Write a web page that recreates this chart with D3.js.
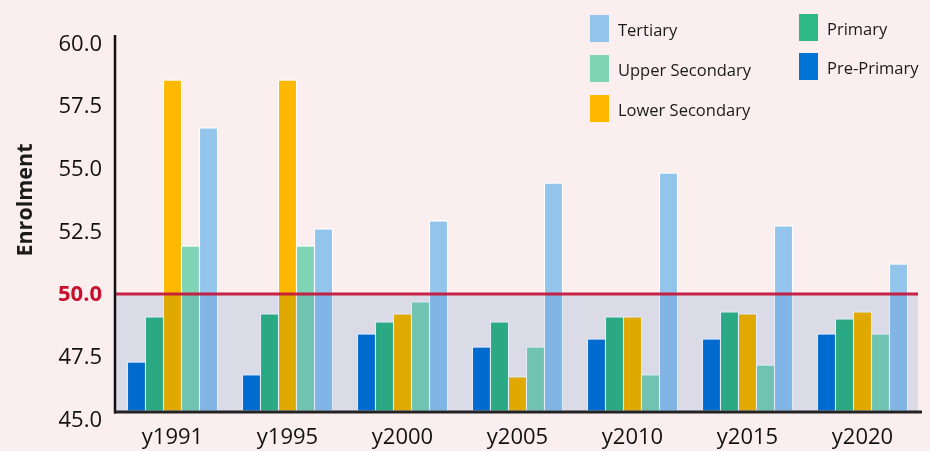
<!DOCTYPE html>
<html>
<head>
<meta charset="utf-8">
<script src="https://cdn.jsdelivr.net/npm/d3@7"></script>
<style>
html,body{margin:0;padding:0;background:#FAEEEE;}
svg{display:block;}
text{font-family:"Open Sans",sans-serif;}
</style>
</head>
<body>
<svg id="chart" width="930" height="451"></svg>
<script>
// ---- data ----
const categories = ["y1991","y1995","y2000","y2005","y2010","y2015","y2020"];
const seriesNames = ["Pre-Primary","Primary","Lower Secondary","Upper Secondary","Tertiary"];
const prePrimary     = [46.95, 46.44, 48.07, 47.55, 47.87, 47.87, 48.07];
const primary        = [48.75, 48.87, 48.55, 48.55, 48.75, 48.95, 48.67];
const lowerSecondary = [58.20, 58.20, 48.87, 46.36, 48.75, 48.87, 48.95];
const upperSecondary = [51.58, 51.58, 49.35, 47.55, 46.44, 46.83, 48.07];
const tertiary       = [56.29, 52.26, 52.58, 54.09, 54.49, 52.38, 50.86];
const yTicks = [45, 47.5, 50, 52.5, 55, 57.5, 60];
const threshold = 49.67;
const legendCol1 = ["Tertiary","Upper Secondary","Lower Secondary"];
const legendCol2 = ["Primary","Pre-Primary"];

const seriesValues = [prePrimary, primary, lowerSecondary, upperSecondary, tertiary];
const colors = {
  "Pre-Primary": "#0074D4",
  "Primary": "#2FB887",
  "Lower Secondary": "#FFB800",
  "Upper Secondary": "#80D4B6",
  "Tertiary": "#93C5EC"
};

const svg = d3.select("#chart");
const W = 930, H = 451;
svg.append("rect").attr("width", W).attr("height", H).attr("fill", "#FAEEEE");

const mLeft = 115, mRight = 920, mTop = 35, mBottom = 411;

const y = d3.scaleLinear().domain([45, 60]).range([mBottom, mTop]);
const x0 = d3.scaleBand().domain(categories).range([mLeft, mRight]).paddingInner(25/115).paddingOuter(25/230);
const x1 = d3.scaleBand().domain(seriesNames).range([0, x0.bandwidth()]).padding(0);

const table = categories.map((c, i) => ({
  cat: c,
  vals: seriesNames.map((s, j) => ({ series: s, value: seriesValues[j][i] }))
}));

const plot = svg.append("g");

// bars
const groups = plot.selectAll("g.grp").data(table).join("g")
  .attr("class", "grp")
  .attr("transform", d => `translate(${x0(d.cat)},0)`);
groups.selectAll("rect").data(d => d.vals).join("rect")
  .attr("x", d => x1(d.series))
  .attr("width", x1.bandwidth())
  .attr("y", d => y(d.value))
  .attr("height", d => y(45) - y(d.value))
  .attr("fill", d => colors[d.series])
  .attr("stroke", "#ffffff")
  .attr("stroke-width", 1.1);

// shaded region below threshold (multiply blend)
plot.append("rect")
  .attr("x", mLeft)
  .attr("y", y(threshold))
  .attr("width", 918 - mLeft)
  .attr("height", y(45) - y(threshold))
  .attr("fill", "#E0EAF8")
  .style("mix-blend-mode", "multiply");

// threshold line
plot.append("line")
  .attr("x1", mLeft).attr("x2", 918)
  .attr("y1", y(threshold)).attr("y2", y(threshold))
  .attr("stroke", "#C4183C").attr("stroke-width", 3).attr("stroke-opacity", 0.95);

// y axis
const yAxis = d3.axisLeft(y).tickValues(yTicks).tickFormat(d3.format(".1f")).tickSize(0).tickPadding(13);
const gy = svg.append("g").attr("transform", `translate(${mLeft},0)`).call(yAxis);
gy.select(".domain").remove();
gy.selectAll("text")
  .attr("dy", null)
  .attr("y", 6)
  .attr("dominant-baseline", "central")
  .style("font-size", "22px")
  .style("font-family", "'Open Sans', sans-serif")
  .attr("fill", d => d === 50 ? "#C8102E" : "#111")
  .style("font-weight", d => d === 50 ? "700" : "400");

svg.append("line")
  .attr("x1", mLeft).attr("x2", mLeft)
  .attr("y1", mTop).attr("y2", 413.5)
  .attr("stroke", "#111").attr("stroke-width", 2.5);

// x axis
const xAxis = d3.axisBottom(x0).tickSize(0).tickPadding(10);
const gx = svg.append("g").attr("transform", `translate(0,${mBottom})`).call(xAxis);
gx.select(".domain").remove();
gx.selectAll("text")
  .style("font-size", "22px")
  .style("font-family", "'Open Sans', sans-serif")
  .attr("fill", "#111")
  .attr("dy", null)
  .attr("y", 33);

svg.append("line")
  .attr("x1", mLeft - 1).attr("x2", 922)
  .attr("y1", 412).attr("y2", 412)
  .attr("stroke", "#222").attr("stroke-width", 3);

// y axis title
svg.append("text")
  .attr("transform", `translate(32,${200}) rotate(-90)`)
  .attr("text-anchor", "middle")
  .style("font-size", "21.5px")
  .style("font-weight", "700")
  .attr("fill", "#1a1a1a")
  .text("Enrolment");

// legend
const leg = svg.append("g");
function legendCol(items, sx, sy0, step) {
  items.forEach((name, i) => {
    const g = leg.append("g").attr("transform", `translate(${sx},${sy0 + i * step})`);
    g.append("rect").attr("width", 19).attr("height", 27).attr("fill", colors[name]);
    g.append("text").attr("x", 28).attr("y", 14).attr("dominant-baseline", "central")
      .style("font-size", "16.5px").attr("fill", "#1a1a1a").text(name);
  });
}
legendCol(legendCol1, 590, 15, 40);
legendCol(legendCol2, 799, 14, 39);
</script>
</body>
</html>
